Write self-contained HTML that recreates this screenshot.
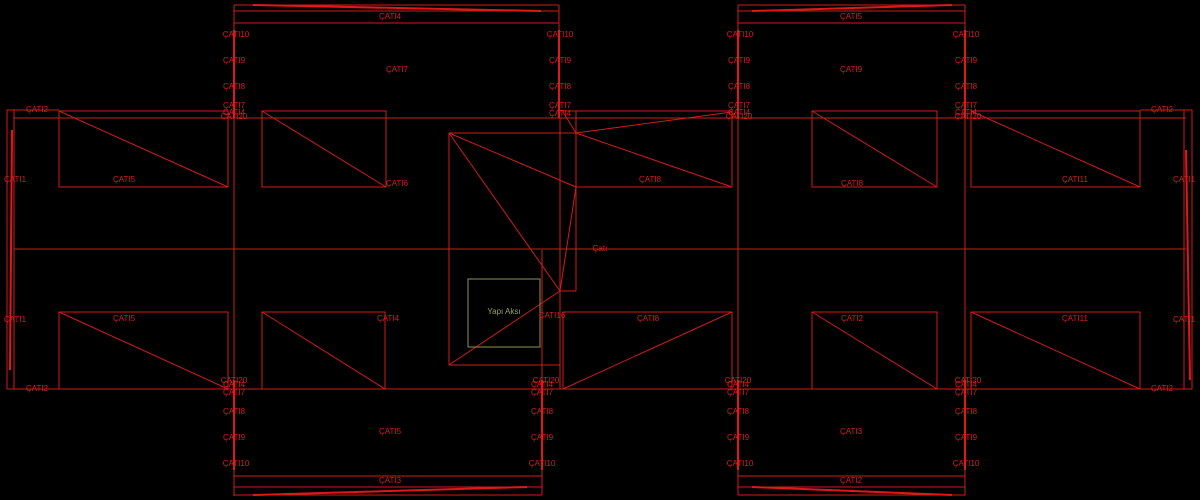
<!DOCTYPE html>
<html><head><meta charset="utf-8"><style>
html,body{margin:0;padding:0;background:#000;width:1200px;height:500px;overflow:hidden}
svg{display:block}
text{font-family:"Liberation Sans",sans-serif;font-size:8px;fill:#d81e1e;text-anchor:middle;dominant-baseline:middle}
</style></head><body>
<svg width="1200" height="500" viewBox="0 0 1200 500" xmlns="http://www.w3.org/2000/svg">
<g stroke="#d01c1c" stroke-width="1" fill="none">
<line x1="234" y1="5" x2="559" y2="5"/>
<line x1="234" y1="11" x2="559" y2="11"/>
<line x1="234" y1="23" x2="559" y2="23"/>
<line x1="234" y1="5" x2="234" y2="496"/>
<line x1="559" y1="5" x2="559" y2="118"/>
<line x1="234" y1="476" x2="542" y2="476"/>
<line x1="234" y1="487" x2="542" y2="487"/>
<line x1="234" y1="495" x2="542" y2="495"/>
<line x1="542" y1="250" x2="542" y2="495"/>
<line x1="560" y1="118" x2="560" y2="389"/>
<line x1="738" y1="5" x2="965" y2="5"/>
<line x1="738" y1="11" x2="965" y2="11"/>
<line x1="738" y1="23" x2="965" y2="23"/>
<line x1="738" y1="476" x2="965" y2="476"/>
<line x1="738" y1="487" x2="965" y2="487"/>
<line x1="738" y1="495" x2="965" y2="495"/>
<line x1="738" y1="5" x2="738" y2="495"/>
<line x1="965" y1="5" x2="965" y2="495"/>
<line x1="14" y1="118" x2="1186" y2="118"/>
<line x1="14" y1="389" x2="1186" y2="389"/>
<line x1="14" y1="249" x2="1186" y2="249"/>
<rect x="7" y="110" width="7" height="279"/>
<line x1="14" y1="110" x2="59" y2="110"/>
<rect x="1184" y="110" width="8" height="279"/>
<line x1="1140" y1="110" x2="1184" y2="110"/>
<rect x="59" y="111" width="169" height="76"/><line x1="59" y1="111" x2="228" y2="187"/>
<rect x="262" y="111" width="124" height="76"/><line x1="262" y1="111" x2="386" y2="187"/>
<rect x="576" y="111" width="156" height="76"/>
<line x1="560" y1="111" x2="576" y2="111"/>
<line x1="576" y1="133" x2="732" y2="187"/>
<line x1="576" y1="133" x2="732" y2="112"/>
<rect x="812" y="111" width="125" height="76"/><line x1="812" y1="111" x2="937" y2="187"/>
<rect x="971" y="111" width="169" height="76"/><line x1="971" y1="111" x2="1140" y2="187"/>
<line x1="449" y1="133" x2="576" y2="133"/>
<line x1="449" y1="133" x2="449" y2="365"/>
<line x1="449" y1="365" x2="560" y2="365"/>
<line x1="576" y1="133" x2="576" y2="291"/>
<line x1="560" y1="291" x2="576" y2="291"/>
<line x1="449" y1="133" x2="576" y2="187"/>
<line x1="449" y1="133" x2="560" y2="291"/>
<line x1="576" y1="187" x2="560" y2="291"/>
<line x1="449" y1="365" x2="560" y2="291"/>
<line x1="563" y1="112" x2="576" y2="133"/>
<rect x="59" y="312" width="169" height="77"/><line x1="59" y1="312" x2="228" y2="389"/>
<rect x="262" y="312" width="123" height="77"/><line x1="262" y1="312" x2="385" y2="389"/>
<rect x="563" y="312" width="169" height="77"/><line x1="563" y1="389" x2="732" y2="312"/>
<rect x="812" y="312" width="125" height="77"/><line x1="812" y1="312" x2="937" y2="389"/>
<rect x="971" y="312" width="169" height="77"/><line x1="971" y1="312" x2="1140" y2="389"/>
</g>
<g stroke="#e01818" stroke-width="2" fill="none">
<line x1="253" y1="5" x2="541" y2="11"/>
<line x1="253" y1="495" x2="527" y2="487"/>
<line x1="752" y1="11" x2="952" y2="5"/>
<line x1="752" y1="487" x2="952" y2="495"/>
<line x1="234" y1="30" x2="234" y2="118"/>
<line x1="559" y1="30" x2="559" y2="118"/>
<line x1="234" y1="380" x2="234" y2="470"/>
<line x1="542" y1="380" x2="542" y2="470"/>
<line x1="738" y1="30" x2="738" y2="118"/>
<line x1="965" y1="30" x2="965" y2="118"/>
<line x1="738" y1="380" x2="738" y2="470"/>
<line x1="965" y1="380" x2="965" y2="470"/>
<line x1="12" y1="130" x2="10" y2="370"/>
<line x1="1186" y1="150" x2="1190" y2="380"/>
</g>
<rect x="468" y="279" width="72" height="68" fill="none" stroke="#8a9450" stroke-width="1"/>
<text x="504" y="312" style="fill:#9aa45a">Yapı Aksı</text>

<text x="390" y="17">ÇATI4</text>
<text x="397" y="70">ÇATI7</text>
<text x="851" y="17">ÇATI5</text>
<text x="851" y="70">ÇATI9</text>
<text x="390" y="481">ÇATI3</text>
<text x="390" y="432">ÇATI5</text>
<text x="851" y="481">ÇATI2</text>
<text x="851" y="432">ÇATI3</text>

<g>
<text x="236" y="35">ÇATI10</text><text x="234" y="61">ÇATI9</text><text x="234" y="87">ÇATI8</text><text x="234" y="106">ÇATI7</text><text x="234" y="113">ÇATI4</text><text x="234" y="117">ÇATI20</text>
<text x="560" y="35">ÇATI10</text><text x="560" y="61">ÇATI9</text><text x="560" y="87">ÇATI8</text><text x="560" y="106">ÇATI7</text><text x="560" y="114">ÇATI4</text>
<text x="740" y="35">ÇATI10</text><text x="739" y="61">ÇATI9</text><text x="739" y="87">ÇATI8</text><text x="739" y="106">ÇATI7</text><text x="739" y="113">ÇATI4</text><text x="739" y="117">ÇATI20</text>
<text x="966" y="35">ÇATI10</text><text x="966" y="61">ÇATI9</text><text x="966" y="87">ÇATI8</text><text x="966" y="106">ÇATI7</text><text x="966" y="113">ÇATI4</text><text x="968" y="117">ÇATI20</text>
</g>
<g>
<text x="234" y="381">ÇATI20</text><text x="234" y="385">ÇATI4</text><text x="234" y="393">ÇATI7</text><text x="234" y="412">ÇATI8</text><text x="234" y="438">ÇATI9</text><text x="236" y="464">ÇATI10</text>
<text x="546" y="381">ÇATI20</text><text x="542" y="385">ÇATI4</text><text x="542" y="393">ÇATI7</text><text x="542" y="412">ÇATI8</text><text x="542" y="438">ÇATI9</text><text x="542" y="464">ÇATI10</text>
<text x="738" y="381">ÇATI20</text><text x="738" y="385">ÇATI4</text><text x="738" y="393">ÇATI7</text><text x="738" y="412">ÇATI8</text><text x="738" y="438">ÇATI9</text><text x="740" y="464">ÇATI10</text>
<text x="968" y="381">ÇATI20</text><text x="966" y="385">ÇATI4</text><text x="966" y="393">ÇATI7</text><text x="966" y="412">ÇATI8</text><text x="966" y="438">ÇATI9</text><text x="966" y="464">ÇATI10</text>
</g>

<text x="37" y="110">ÇATI2</text>
<text x="15" y="180">ÇATI1</text>
<text x="124" y="180">ÇATI5</text>
<text x="397" y="184">ÇATI6</text>
<text x="650" y="180">ÇATI8</text>
<text x="852" y="184">ÇATI8</text>
<text x="1075" y="180">ÇATI11</text>
<text x="1162" y="110">ÇATI2</text>
<text x="1184" y="180">ÇATI1</text>
<text x="600" y="249">Çatı</text>
<text x="15" y="320">ÇATI1</text>
<text x="124" y="319">ÇATI5</text>
<text x="388" y="319">ÇATI4</text>
<text x="552" y="316">ÇATI16</text>
<text x="648" y="319">ÇATI8</text>
<text x="852" y="319">ÇATI2</text>
<text x="1075" y="319">ÇATI11</text>
<text x="1184" y="320">ÇATI1</text>
<text x="37" y="389">ÇATI2</text>
<text x="1162" y="389">ÇATI2</text>
</svg>
</body></html>
